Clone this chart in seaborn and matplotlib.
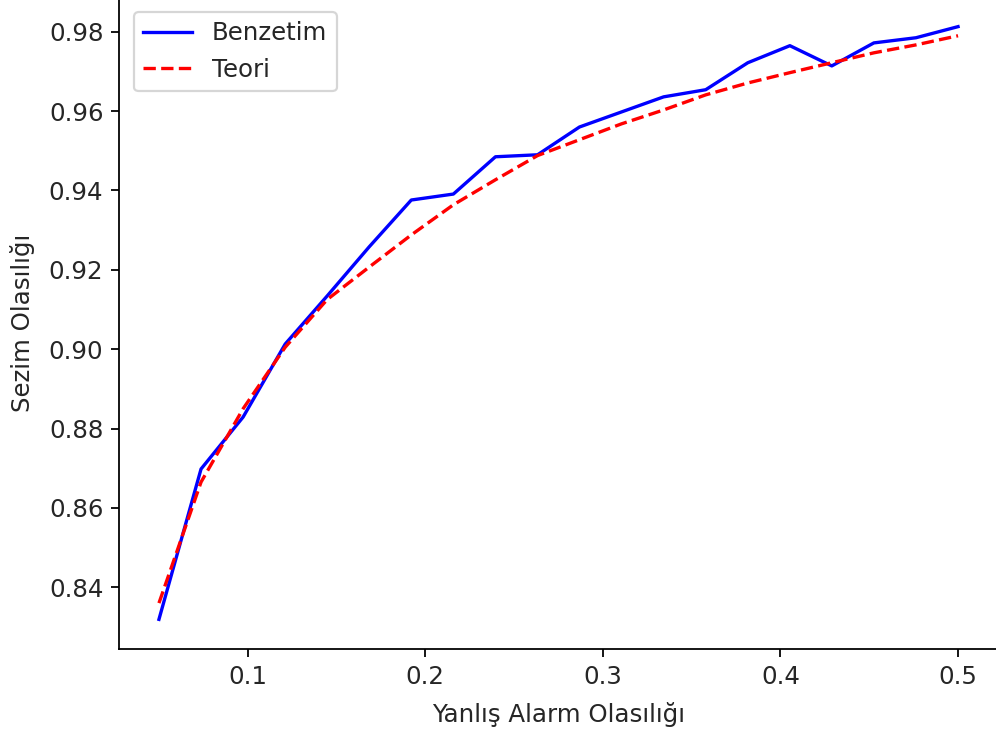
import numpy as np
import pandas as pd
import matplotlib
matplotlib.use('Agg')
import matplotlib.pyplot as plt
import seaborn as sns

# Yanlış alarm olasılıkları (20 nokta)
pfa = [0.05, 0.0737, 0.0974, 0.1211, 0.1447, 0.1684, 0.1921, 0.2158, 0.2395, 0.2632,
       0.2868, 0.3105, 0.3342, 0.3579, 0.3816, 0.4053, 0.4289, 0.4526, 0.4763, 0.5]

# Benzetim sonuçları
pd_sim = [0.8319, 0.8698, 0.8829, 0.9013, 0.9134, 0.9258, 0.9376, 0.9391, 0.9485, 0.9490,
          0.9560, 0.9598, 0.9636, 0.9654, 0.9722, 0.9765, 0.9714, 0.9772, 0.9785, 0.9813]

# Teorik sonuçlar
pd_teo = [0.8360, 0.8665, 0.8850, 0.9005, 0.9125, 0.9207, 0.9288, 0.9364, 0.9427, 0.9488,
          0.9528, 0.9568, 0.9603, 0.9641, 0.9671, 0.9697, 0.9722, 0.9747, 0.9767, 0.9790]

plt.rcParams['font.family'] = ['DejaVu Sans']
plt.rcParams['font.size'] = 11
plt.rcParams['text.color'] = '0.15'
plt.rcParams['axes.labelcolor'] = '0.15'
plt.rcParams['xtick.labelcolor'] = '0.15'
plt.rcParams['ytick.labelcolor'] = '0.15'

fig = plt.figure(figsize=(996 / 160, 735 / 160), dpi=160)
ax = fig.add_axes([119 / 996, 86 / 735, 879 / 996, 652 / 735])

sns.lineplot(x=pfa, y=pd_sim, ax=ax, color='blue', label='Benzetim', linewidth=1.5)
sns.lineplot(x=pfa, y=pd_teo, ax=ax, color='red', label='Teori', linewidth=1.5, linestyle='--')

ax.set_xticks([0.1, 0.2, 0.3, 0.4, 0.5])
ax.set_yticks([0.84, 0.86, 0.88, 0.90, 0.92, 0.94, 0.96, 0.98])
ax.set_yticklabels(['0.84', '0.86', '0.88', '0.90', '0.92', '0.94', '0.96', '0.98'])
ax.set_xlabel('Yanlış Alarm Olasılığı', labelpad=6)
ax.set_ylabel('Sezim Olasılığı', labelpad=6)
ax.legend(loc='upper left', borderaxespad=0.6)

fig.savefig('out.png', dpi=160)
